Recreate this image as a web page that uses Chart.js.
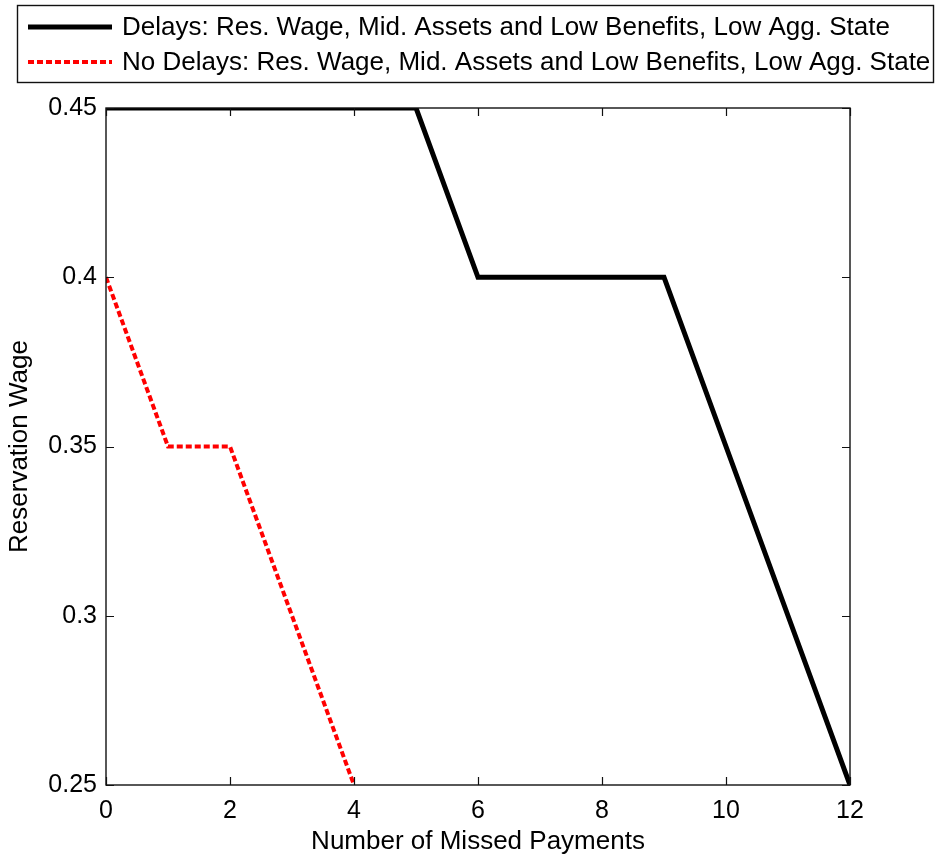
<!DOCTYPE html>
<html>
<head>
<meta charset="utf-8">
<script src="https://cdn.jsdelivr.net/npm/chart.js@4.4.1/dist/chart.umd.min.js"></script>
<style>
  html, body { margin: 0; padding: 0; background: #fff; }
  #wrap { width: 936px; height: 861px; position: relative; }
</style>
</head>
<body>
<div id="wrap"><canvas id="c" width="936" height="861"></canvas></div>
<script>
// ---- data ----
const missedPayments = [0, 1, 2, 3, 4, 5, 6, 7, 8, 9, 10, 11, 12];
const delaysWage = [0.45, 0.45, 0.45, 0.45, 0.45, 0.45, 0.40, 0.40, 0.40, 0.40, 0.35, 0.30, 0.25];
const noDelaysX = [0, 1, 2, 3, 4];
const noDelaysWage = [0.40, 0.35, 0.35, 0.30, 0.25];
const xTicks = [0, 2, 4, 6, 8, 10, 12];
const yTicks = [0.25, 0.30, 0.35, 0.40, 0.45];
const seriesLabels = [
  'Delays: Res. Wage, Mid. Assets and Low Benefits, Low Agg. State',
  'No Delays: Res. Wage, Mid. Assets and Low Benefits, Low Agg. State'
];
const xTitle = 'Number of Missed Payments';
const yTitle = 'Reservation Wage';

const FONT = '"Liberation Sans", Arial, Helvetica, sans-serif';

const boxTicksPlugin = {
  id: 'boxTicks',
  afterDatasetsDraw(chart) {
    const {ctx, chartArea: a, scales} = chart;
    ctx.save();
    ctx.strokeStyle = '#111';
    ctx.lineWidth = 1.4;
    ctx.setLineDash([]);
    ctx.strokeRect(a.left, a.top, a.right - a.left, a.bottom - a.top);
    const L = 8;
    ctx.lineWidth = 1.2;
    ctx.beginPath();
    xTicks.forEach(v => {
      const px = Math.round(scales.x.getPixelForValue(v)) + 0.5;
      ctx.moveTo(px, a.bottom); ctx.lineTo(px, a.bottom - L);
      ctx.moveTo(px, a.top); ctx.lineTo(px, a.top + L);
    });
    yTicks.forEach(v => {
      const py = Math.round(scales.y.getPixelForValue(v)) + 0.5;
      ctx.moveTo(a.left, py); ctx.lineTo(a.left + L, py);
      ctx.moveTo(a.right, py); ctx.lineTo(a.right - L, py);
    });
    ctx.stroke();
    ctx.restore();
  }
};

const legendBoxPlugin = {
  id: 'legendBox',
  afterDraw(chart) {
    const ctx = chart.ctx;
    ctx.save();
    ctx.strokeStyle = '#111';
    ctx.lineWidth = 1.4;
    ctx.setLineDash([]);
    ctx.strokeRect(17.5, 5.5, 916, 77);
    const rows = [27, 62];
    chart.data.datasets.forEach((ds, i) => {
      const y = rows[i];
      ctx.beginPath();
      ctx.strokeStyle = ds.borderColor;
      ctx.lineWidth = ds.borderWidth;
      ctx.setLineDash(ds.borderDash || []);
      ctx.lineCap = 'butt';
      ctx.moveTo(28, y); ctx.lineTo(112, y);
      ctx.stroke();
      ctx.setLineDash([]);
      ctx.fillStyle = '#000';
      ctx.font = '26px ' + FONT;
      ctx.textBaseline = 'middle';
      ctx.textAlign = 'left';
      ctx.fillText(ds.label, 122, y + 1);
    });
    ctx.restore();
  }
};

new Chart(document.getElementById('c'), {
  type: 'line',
  data: {
    datasets: [
      {
        label: seriesLabels[0],
        data: missedPayments.map((x, i) => ({x: x, y: delaysWage[i]})),
        borderColor: '#000000',
        borderWidth: 5,
        pointRadius: 0,
        fill: false,
        tension: 0
      },
      {
        label: seriesLabels[1],
        data: noDelaysX.map((x, i) => ({x: x, y: noDelaysWage[i]})),
        borderColor: '#ff0000',
        borderWidth: 4,
        borderDash: [6, 3],
        pointRadius: 0,
        fill: false,
        tension: 0
      }
    ]
  },
  options: {
    responsive: false,
    animation: false,
    devicePixelRatio: 1,
    layout: { padding: { top: 108, right: 86, left: 0, bottom: 0 } },
    plugins: { legend: { display: false }, tooltip: { enabled: false } },
    scales: {
      x: {
        type: 'linear',
        min: 0, max: 12,
        afterBuildTicks: s => { s.ticks = xTicks.map(v => ({value: v})); },
        afterFit: s => { s.height = 76; },
        grid: { display: false, drawTicks: false },
        border: { display: false },
        ticks: {
          color: '#000', padding: 11,
          font: { family: FONT, size: 25 },
          maxRotation: 0,
          callback: v => String(v)
        },
        title: {
          display: true, text: xTitle, color: '#000',
          font: { family: FONT, size: 26 },
          padding: { top: 4, bottom: 4 }
        }
      },
      y: {
        type: 'linear',
        min: 0.25, max: 0.45,
        afterBuildTicks: s => { s.ticks = yTicks.map(v => ({value: v})); },
        afterFit: s => { s.width = 106; },
        grid: { display: false, drawTicks: false },
        border: { display: false },
        ticks: {
          color: '#000', padding: 9,
          font: { family: FONT, size: 25 },
          callback: v => String(Number(v.toFixed(2)))
        },
        title: {
          display: true, text: yTitle, color: '#000',
          font: { family: FONT, size: 26 },
          padding: { top: 4, bottom: 4 }
        }
      }
    }
  },
  plugins: [boxTicksPlugin, legendBoxPlugin]
});
</script>
</body>
</html>
